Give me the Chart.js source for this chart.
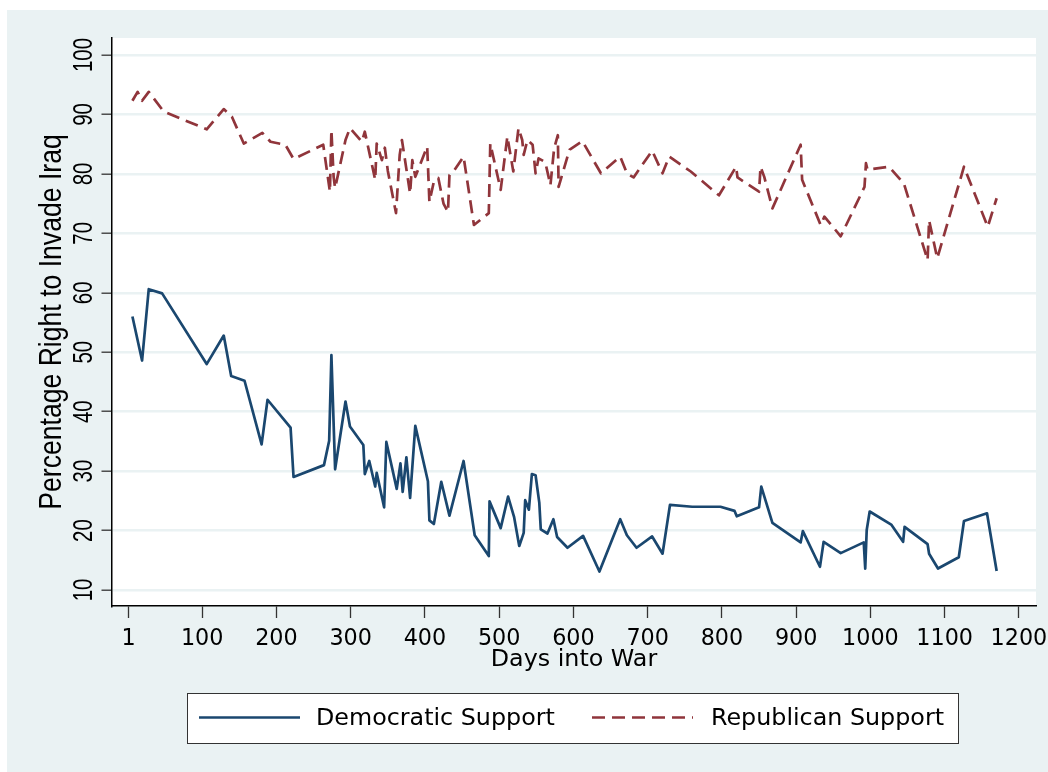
<!DOCTYPE html>
<html>
<head>
<meta charset="utf-8">
<script src="https://cdn.jsdelivr.net/npm/chart.js@4"></script>
<style>
  html, body { margin: 0; padding: 0; background: #fff; }
  #supportChart { display: block; }
</style>
</head>
<body>
<canvas id="supportChart" width="1048" height="772"></canvas>
<script>
// Days into the war (poll dates) and share saying invasion was right
const demDays = [6, 19, 28, 46, 106, 129, 139, 157, 180, 188,
  219, 223, 264, 271, 274, 279, 293, 299, 317, 319,
  325, 333, 335, 345, 348, 362, 367, 370, 375, 380,
  387, 404, 406, 412, 422, 433, 452, 467, 486, 487,
  502, 512, 520, 527, 533, 535, 540, 544, 549, 554,
  556, 565, 573, 578, 592, 613, 635, 663, 672, 685,
  706, 720, 730, 760, 798, 817, 820, 850, 853, 868,
  906, 909, 932, 937, 960, 991, 993, 995, 999, 1028,
  1044, 1046, 1077, 1079, 1091, 1119, 1126, 1157, 1170];
const demSupport = [56.0, 48.6, 60.6, 59.9, 48.0, 52.8, 46.0, 45.2, 34.5, 42.0,
  37.3, 29.0, 31.0, 35.1, 49.5, 30.3, 41.7, 37.5, 34.4, 29.5,
  31.7, 27.4, 29.7, 23.9, 34.9, 27.0, 31.3, 26.5, 32.3, 25.5,
  37.6, 28.3, 21.7, 21.1, 28.2, 22.5, 31.7, 19.2, 15.7, 24.9,
  20.4, 25.7, 22.3, 17.4, 19.6, 25.1, 23.5, 29.5, 29.3, 24.7,
  20.2, 19.5, 21.9, 18.9, 17.1, 19.1, 13.1, 21.9, 19.2, 17.1,
  19.0, 16.1, 24.3, 24.0, 24.0, 23.3, 22.4, 23.9, 27.4, 21.3,
  18.0, 19.9, 13.9, 18.1, 16.2, 18.0, 13.6, 20.1, 23.2, 21.0,
  18.1, 20.6, 17.7, 16.1, 13.6, 15.5, 21.6, 22.9, 13.2];

const repDays = [6, 13, 19, 28, 48, 106, 129, 140, 156, 181,
  192, 212, 223, 263, 272, 274, 277, 279, 293, 299,
  315, 319, 333, 335, 342, 346, 350, 361, 366, 369,
  380, 383, 387, 403, 406, 412, 418, 425, 431, 433,
  440, 452, 466, 486, 488, 502, 511, 519, 526, 531,
  533, 538, 545, 549, 553, 562, 569, 574, 579, 580,
  592, 595, 612, 637, 663, 672, 681, 706, 720, 729,
  758, 796, 819, 821, 850, 852, 857, 868, 906, 908,
  933, 938, 960, 992, 994, 996, 1025, 1045, 1077, 1079,
  1090, 1126, 1158, 1170];
const repSupport = [92.3, 93.8, 92.3, 93.8, 90.5, 87.5, 90.9, 89.6, 85.1, 86.9,
  85.4, 84.9, 82.5, 84.9, 77.0, 87.4, 79.5, 77.6, 85.7, 87.7,
  85.4, 87.1, 79.0, 85.1, 82.3, 84.4, 80.5, 73.4, 83.2, 85.7,
  76.7, 82.3, 79.5, 84.6, 75.3, 78.7, 79.3, 75.0, 73.6, 79.8,
  80.7, 82.9, 71.4, 73.4, 85.1, 77.3, 86.3, 80.4, 87.7, 85.7,
  83.2, 85.7, 84.9, 80.1, 82.6, 82.0, 78.1, 84.3, 86.5, 77.8,
  82.9, 84.1, 85.5, 80.1, 82.9, 80.1, 79.4, 83.9, 80.1, 82.9,
  80.4, 76.4, 81.2, 79.4, 77.0, 81.2, 79.5, 74.2, 84.9, 79.0,
  71.4, 72.8, 69.5, 77.8, 81.8, 80.7, 81.2, 78.4, 65.5, 72.2,
  65.8, 81.2, 71.1, 75.9];

const xTicks = [1, 100, 200, 300, 400, 500, 600, 700, 800, 900, 1000, 1100, 1200];
const yTicks = [10, 20, 30, 40, 50, 60, 70, 80, 90, 100];

const NAVY = '#1a476f';
const MAROON = '#90353b';
const BG = '#eaf2f3';

// stata-like outer region + white plot region
const frame = {
  id: 'frame',
  beforeDraw(chart) {
    const { ctx, chartArea: a } = chart;
    ctx.save();
    ctx.fillStyle = '#fff';
    ctx.fillRect(0, 0, chart.width, chart.height);
    ctx.fillStyle = BG;
    ctx.fillRect(7, 10, chart.width - 7, chart.height - 10);
    ctx.fillStyle = '#fff';
    ctx.fillRect(a.left, a.top, a.right - a.left, a.bottom - a.top);
    ctx.restore();
  }
};

// vertical tick labels and title on the y axis
const yLabels = {
  id: 'yLabels',
  afterDraw(chart) {
    const { ctx, chartArea: a } = chart;
    const yScale = chart.scales.y;
    ctx.save();
    ctx.fillStyle = '#000';
    ctx.textAlign = 'center';
    ctx.textBaseline = 'alphabetic';
    ctx.font = '20.5px "Liberation Sans"';
    yTicks.forEach(v => {
      ctx.save();
      ctx.translate(91.5, yScale.getPixelForValue(v));
      ctx.rotate(-Math.PI / 2);
      ctx.scale(1, 1.35);
      ctx.fillText(String(v), 0, 0);
      ctx.restore();
    });
    ctx.save();
    ctx.translate(61, (a.top + a.bottom) / 2);
    ctx.rotate(-Math.PI / 2);
    ctx.scale(1, 1.15);
    ctx.font = '26.6px "Liberation Sans"';
    ctx.fillText('Percentage Right to Invade Iraq', 0, 0);
    ctx.restore();
    ctx.restore();
  }
};

// boxed legend under the axis title
const legendBox = {
  id: 'legendBox',
  afterDraw(chart) {
    const { ctx } = chart;
    const slots = [[199, 316], [592, 711]];
    ctx.save();
    ctx.fillStyle = '#fff';
    ctx.fillRect(187, 693, 771, 50);
    ctx.strokeStyle = '#333';
    ctx.lineWidth = 1;
    ctx.strokeRect(187.5, 693.5, 771, 50);
    chart.data.datasets.forEach((ds, i) => {
      const [lineX, textX] = slots[i];
      ctx.strokeStyle = ds.borderColor;
      ctx.lineWidth = ds.borderWidth;
      ctx.setLineDash(ds.borderDash || []);
      ctx.beginPath();
      ctx.moveTo(lineX, 717.5);
      ctx.lineTo(lineX + 101, 717.5);
      ctx.stroke();
      ctx.setLineDash([]);
      ctx.fillStyle = '#000';
      ctx.font = '23.8px "DejaVu Sans"';
      ctx.textAlign = 'left';
      ctx.textBaseline = 'middle';
      ctx.fillText(ds.label, textX, 719);
    });
    ctx.restore();
  }
};

const ctxSupport = document.getElementById('supportChart');

new Chart(ctxSupport, {
  type: 'line',
  data: {
    datasets: [{
      label: 'Democratic Support',
      data: demDays.map((d, i) => ({ x: d, y: demSupport[i] })),
      borderColor: NAVY,
      borderWidth: 2.7,
      borderJoinStyle: 'round',
      pointRadius: 0,
      tension: 0
    }, {
      label: 'Republican Support',
      data: repDays.map((d, i) => ({ x: d, y: repSupport[i] })),
      borderColor: MAROON,
      borderWidth: 2.7,
      borderDash: [13, 7],
      borderJoinStyle: 'round',
      pointRadius: 0,
      tension: 0
    }]
  },
  options: {
    responsive: false,
    animation: false,
    layout: {
      padding: { left: 0, top: 38, right: 12, bottom: 98 }
    },
    plugins: {
      legend: { display: false },
      tooltip: { enabled: false }
    },
    scales: {
      x: {
        type: 'linear',
        min: -21.5,
        max: 1223,
        afterBuildTicks: s => { s.ticks = xTicks.map(v => ({ value: v })); },
        afterFit: s => { s.height = 68; s.paddingLeft = 0; s.paddingRight = 0; },
        ticks: {
          color: '#000',
          padding: 8,
          maxRotation: 0,
          autoSkip: false,
          font: { family: 'DejaVu Sans', size: 22.3 },
          callback: v => String(v)
        },
        grid: { drawOnChartArea: false, tickLength: 12, tickColor: '#333', tickWidth: 1.3 },
        border: { color: '#000', width: 1.5 },
        title: {
          display: true,
          text: 'Days into War',
          color: '#000',
          padding: 0,
          font: { family: 'DejaVu Sans', size: 23.8 }
        }
      },
      y: {
        min: 7.3,
        max: 102.86,
        afterBuildTicks: s => { s.ticks = yTicks.map(v => ({ value: v })); },
        afterFit: s => { s.width = 112; s.paddingTop = 0; s.paddingBottom = 0; },
        ticks: { display: false },
        grid: { color: BG, lineWidth: 2.4, tickLength: 10.5, tickColor: '#333', tickWidth: 1.3 },
        border: { color: '#000', width: 1.5 }
      }
    }
  },
  plugins: [frame, yLabels, legendBox]
});
</script>
</body>
</html>
